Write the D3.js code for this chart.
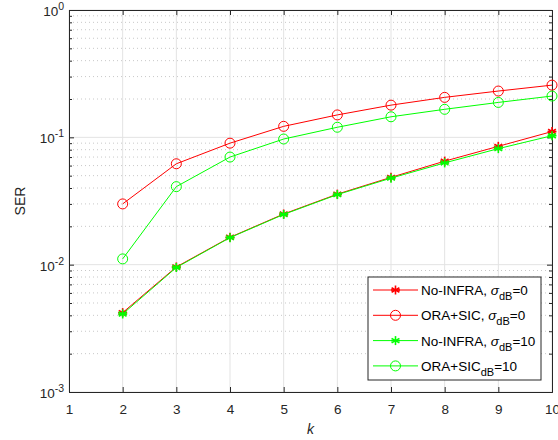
<!DOCTYPE html>
<html>
<head>
<meta charset="utf-8">
<script src="https://cdn.jsdelivr.net/npm/d3@7"></script>
<style>
  body { margin: 0; background: #fff; }
  svg { font-family: "Liberation Sans", Arial, sans-serif; }
</style>
</head>
<body>
<div id="chart"></div>
<script>
// data
let ks = [2, 3, 4, 5, 6, 7, 8, 9, 10];
let noInfra0 = [0.0042, 0.0096, 0.0164, 0.0250, 0.0358, 0.0485, 0.0650, 0.0850, 0.111];
let oraSic0 = [0.030, 0.062, 0.090, 0.122, 0.150, 0.179, 0.206, 0.231, 0.257];
let noInfra10 = [0.0041, 0.0095, 0.0163, 0.0248, 0.0355, 0.0478, 0.0630, 0.0815, 0.103];
let oraSic10 = [0.0111, 0.041, 0.070, 0.097, 0.120, 0.145, 0.166, 0.188, 0.211];
let xTicks = [1, 2, 3, 4, 5, 6, 7, 8, 9, 10];
let yDecades = [-3, -2, -1, 0];

let W = 558, H = 440;
let pLeft = 69, pRight = 552, pTop = 10, pBottom = 392;

let svg = d3.select("#chart").append("svg")
  .attr("width", W)
  .attr("height", H);

let x = d3.scaleLinear().domain([1, 10]).range([pLeft, pRight]);
let y = d3.scaleLog().domain([1e-3, 1]).range([pBottom, pTop]);

// minor grid (dotted)
let minorVals = [];
yDecades.slice(0, 3).forEach(function(e){
  for (let m = 2; m <= 9; m++) minorVals.push(m * Math.pow(10, e));
});
let majorVals = yDecades.map(e => Math.pow(10, e));
svg.append("g").selectAll("line").data(minorVals).enter().append("line")
  .attr("x1", pLeft).attr("x2", pRight)
  .attr("y1", d => y(d)).attr("y2", d => y(d))
  .style("stroke", "#c8c8c8")
  .style("stroke-width", 1)
  .style("stroke-dasharray", "1,3");

// major grid
svg.append("g").selectAll("line").data(majorVals).enter().append("line")
  .attr("x1", pLeft).attr("x2", pRight)
  .attr("y1", d => y(d)).attr("y2", d => y(d))
  .style("stroke", "#e3e3e3");
svg.append("g").selectAll("line").data(xTicks).enter().append("line")
  .attr("x1", d => x(d)).attr("x2", d => x(d))
  .attr("y1", pTop).attr("y2", pBottom)
  .style("stroke", "#e3e3e3");

// axes, MATLAB style with inward ticks on all sides
let axB = svg.append("g").attr("transform", "translate(0," + pBottom + ")")
  .call(d3.axisBottom(x).tickValues(xTicks).tickSize(-5).tickPadding(12).tickFormat(d3.format("d")));
let axT = svg.append("g").attr("transform", "translate(0," + pTop + ")")
  .call(d3.axisTop(x).tickValues(xTicks).tickSize(-5).tickFormat(""));
let yTickVals = majorVals.concat(minorVals);
let axL = svg.append("g").attr("transform", "translate(" + pLeft + ",0)")
  .call(d3.axisLeft(y).tickValues(yTickVals).tickSize(-5).tickFormat(""));
let axR = svg.append("g").attr("transform", "translate(" + pRight + ",0)")
  .call(d3.axisRight(y).tickValues(yTickVals).tickSize(-5).tickFormat(""));
axL.selectAll(".tick line").attr("x2", d => majorVals.indexOf(d) >= 0 ? 5 : 3);
axR.selectAll(".tick line").attr("x2", d => majorVals.indexOf(d) >= 0 ? -5 : -3);
[axB, axT, axL, axR].forEach(function(a){
  a.select(".domain").style("stroke", "#262626").style("stroke-width", 1);
  a.selectAll(".tick line").style("stroke", "#262626");
  a.selectAll("text").style("font-size", "13.5px").style("fill", "#262626").style("font-family", "Liberation Sans, Arial, sans-serif");
});

// y tick labels 10^n
yDecades.forEach(function(e){
  let t = svg.append("text")
    .attr("x", pLeft - 5)
    .attr("y", y(Math.pow(10, e)) + 6)
    .attr("text-anchor", "end")
    .style("font-size", "13.5px")
    .style("fill", "#262626");
  t.append("tspan").text("10");
  t.append("tspan").attr("dy", -6).style("font-size", "10.5px").text(e);
});

// axis labels
svg.append("text")
  .attr("transform", "translate(25," + ((pTop + pBottom) / 2) + ") rotate(-90)")
  .attr("text-anchor", "middle")
  .style("font-size", "14px")
  .style("fill", "#262626")
  .text("SER");
svg.append("text")
  .attr("x", (pLeft + pRight) / 2)
  .attr("y", 434)
  .attr("text-anchor", "middle")
  .style("font-size", "14px")
  .style("font-style", "italic")
  .style("fill", "#262626")
  .text("k");

let series = [
  {vals: noInfra0, color: "#ff0000", marker: "star"},
  {vals: oraSic0, color: "#ff0000", marker: "circle"},
  {vals: noInfra10, color: "#00ff00", marker: "star"},
  {vals: oraSic10, color: "#00ff00", marker: "circle"}
];

let line = d3.line().x((d, i) => x(ks[i])).y(d => y(d));

function drawMarker(g, cx, cy, type, color){
  if (type === "circle") {
    g.append("circle").attr("cx", cx).attr("cy", cy).attr("r", 5)
      .attr("fill", "none").attr("stroke", color).attr("stroke-width", 1);
  } else {
    let r = 4.5;
    [0, 60, 120].forEach(function(a){
      let rad = a * Math.PI / 180;
      g.append("line")
        .attr("x1", cx + r * Math.sin(rad)).attr("y1", cy - r * Math.cos(rad))
        .attr("x2", cx - r * Math.sin(rad)).attr("y2", cy + r * Math.cos(rad))
        .attr("stroke", color).attr("stroke-width", 1.6);
    });
    g.append("line").attr("x1", cx - r).attr("x2", cx + r).attr("y1", cy).attr("y2", cy)
      .attr("stroke", color).attr("stroke-width", 1.6);
  }
}

let plot = svg.append("g");
series.forEach(function(s){
  plot.append("path").datum(s.vals)
    .attr("d", line)
    .attr("fill", "none")
    .attr("stroke", s.color)
    .attr("stroke-width", 1);
  s.vals.forEach(function(v, i){
    drawMarker(plot, x(ks[i]), y(v), s.marker, s.color);
  });
});

// legend
let lg = svg.append("g");
lg.append("rect")
  .attr("x", 368).attr("y", 277).attr("width", 173).attr("height", 103)
  .attr("fill", "white").attr("stroke", "#262626").attr("stroke-width", 1);
let labels = [
  ["No-INFRA, ", "σ", "dB", "=0"],
  ["ORA+SIC, ", "σ", "dB", "=0"],
  ["No-INFRA, ", "σ", "dB", "=10"],
  ["ORA+SIC", "", "dB", "=10"]
];
series.forEach(function(s, i){
  let ly = 290 + i * 25.3;
  lg.append("line").attr("x1", 373).attr("x2", 418).attr("y1", ly).attr("y2", ly)
    .attr("stroke", s.color).attr("stroke-width", 1);
  drawMarker(lg, 395.5, ly, s.marker, s.color);
  let t = lg.append("text").attr("x", 421).attr("y", ly + 5)
    .style("font-size", "13.5px").style("fill", "#000");
  t.append("tspan").text(labels[i][0]);
  if (labels[i][1]) t.append("tspan").style("font-style", "italic").text(labels[i][1]);
  t.append("tspan").attr("dy", 5).style("font-size", "11px").text(labels[i][2]);
  t.append("tspan").attr("dy", -5).text(labels[i][3]);
});
</script>
</body>
</html>
